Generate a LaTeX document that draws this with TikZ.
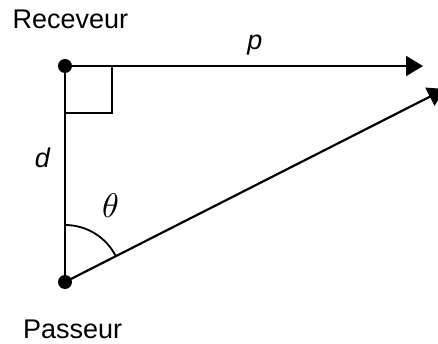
\documentclass[tikz,border=0pt]{standalone}
\usepackage{fontspec}
\setmainfont{Liberation Sans}
\usetikzlibrary{arrows.meta}
\begin{document}
\begin{tikzpicture}[x=1pt,y=-1pt,
  lbl/.style={inner sep=0pt,font=\fontsize{27}{32}\selectfont},
  ilbl/.style={inner sep=0pt,font=\fontsize{27}{32}\selectfont\itshape},
  ln/.style={line width=2.2pt},
  arr/.style={line width=2.2pt,-{Triangle[length=17pt,width=20pt]}},
  dotn/.style={circle,fill=black,inner sep=0pt,minimum size=14pt}]
\useasboundingbox (0,0) rectangle (438,344);
\clip (0,0) rectangle (438,344);
\node[dotn] (R) at (65,66) {};
\node[dotn] (P) at (65,282) {};
\coordinate (pend) at (423,66);
\coordinate (dend) at (445,89);
\coordinate (sq1) at (112,66);
\coordinate (sq2) at (112,113);
\coordinate (sq3) at (65,113);
\draw[ln] (R.center) -- (P.center);
\draw[arr] (R.center) -- (pend);
\draw[arr] (P.center) -- (dend);
\draw[line width=1.8pt] (sq1) -- (sq2) -- (sq3);
\draw[line width=1.8pt] (65,225) arc[start angle=-90,end angle=-27,radius=57];
\node[lbl,anchor=base west] (rec) at (12.5,28.3) {Receveur};
\node[lbl,anchor=base west] (pas) at (23,338) {Passeur};
\node[ilbl,anchor=base] (p) at (255,50) {p};
\node[ilbl,anchor=base] (d) at (42.5,168) {d};
\node[inner sep=0pt,scale=3.4] (th) at (110.5,205.5) {$\theta$};
\end{tikzpicture}
\end{document}
